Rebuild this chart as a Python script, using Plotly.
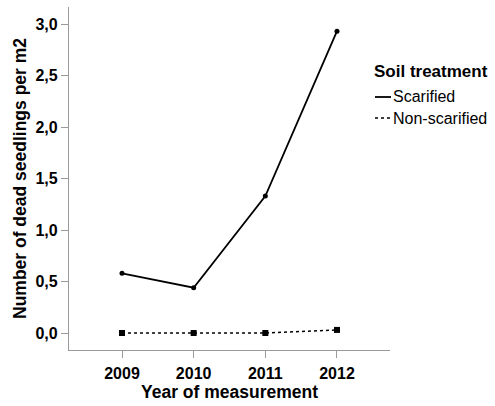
import plotly.graph_objects as go

years = [2009, 2010, 2011, 2012]
scarified = [0.58, 0.44, 1.33, 2.93]
non_scarified = [0.0, 0.0, 0.0, 0.03]
y_ticks = [0.0, 0.5, 1.0, 1.5, 2.0, 2.5, 3.0]
series_names = ["Scarified", "Non-scarified"]
legend_title = "Soil treatment"

W, H = 495, 406
ML, MR, MT, MB = 69, 105, 7, 56
font_family = "Liberation Sans, Arial, sans-serif"

styles = [
    dict(line=dict(color="black", width=1.8), marker=dict(symbol="circle", size=5, color="black")),
    dict(line=dict(color="black", width=1.5, dash="dot"), marker=dict(symbol="square", size=6, color="black")),
]

fig = go.Figure()
for name, vals, st in zip(series_names, [scarified, non_scarified], styles):
    fig.add_trace(go.Scatter(x=years, y=vals, name=name, mode="lines+markers",
                             line=st["line"], marker=st["marker"], showlegend=False))

# custom legend (short line symbols as in the reference)
def px_x(p):
    return (p - ML) / (W - ML - MR)

def px_y(p):
    return 1 - (p - MT) / (H - MT - MB)

fig.add_annotation(text="<b>%s</b>" % legend_title, xref="paper", yref="paper",
                   x=px_x(372), y=px_y(72), xanchor="left", yanchor="middle",
                   showarrow=False, font=dict(size=17, family=font_family, color="black"))
for i, (name, st) in enumerate(zip(series_names, styles)):
    yc = 97 + i * 21
    fig.add_shape(type="line", xref="paper", yref="paper",
                  x0=px_x(375), x1=px_x(391), y0=px_y(yc), y1=px_y(yc),
                  line=dict(color="black", width=1.5 if i else 1.8, dash="dot" if i else "solid"))
    fig.add_annotation(text=name, xref="paper", yref="paper",
                       x=px_x(391), y=px_y(yc), xanchor="left", yanchor="middle",
                       showarrow=False, font=dict(size=16, family=font_family, color="black"))

fig.update_layout(
    width=W, height=H,
    margin=dict(l=ML, r=MR, t=MT, b=MB, autoexpand=False),
    plot_bgcolor="white", paper_bgcolor="white",
    separators=",.",
    font=dict(family=font_family, color="black"),
    showlegend=False,
    xaxis=dict(
        range=[2008.26, 2012.74], tickvals=years, ticktext=[f"<b>{y}</b>" for y in years],
        showline=True, linecolor="#9a9a9a", linewidth=1.2, ticks="outside", ticklen=7,
        tickcolor="#9a9a9a", showgrid=False, zeroline=False, automargin=False,
        ticklabelstandoff=2,
        tickfont=dict(size=16, family=font_family),
        title=dict(text="<b>Year of measurement</b>", font=dict(size=17.5, family=font_family), standoff=4),
    ),
    yaxis=dict(
        range=[-0.165, 3.165], tickvals=y_ticks, tickformat=".1f",
        showline=True, linecolor="#9a9a9a", linewidth=1.2, ticks="outside", ticklen=7,
        tickcolor="#9a9a9a", showgrid=False, zeroline=False, automargin=False,
        tickfont=dict(size=16, family=font_family, weight="bold"),
        title=dict(text="<b>Number of dead seedlings per m2</b>", font=dict(size=17.5, family=font_family), standoff=4),
    ),
)
fig.write_html("out.html", config={"displayModeBar": False},
               post_script="document.body.style.margin='0';document.body.style.overflow='hidden';")
